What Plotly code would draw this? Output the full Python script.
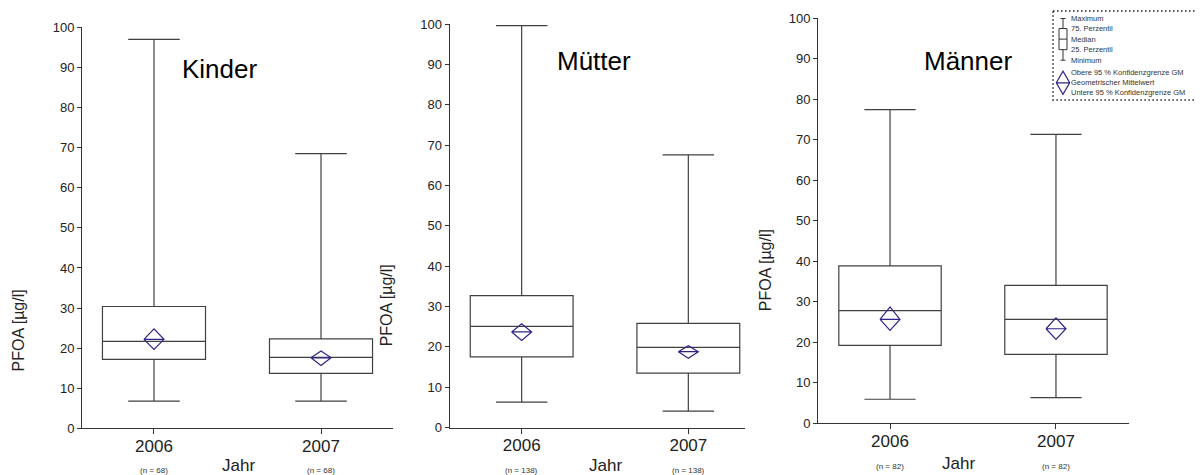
import plotly.graph_objects as go

W, H = 1203, 475

years = [2006, 2007]
panels = ["Kinder", "Mütter", "Männer"]
n_counts = {"Kinder": [68, 68], "Mütter": [138, 138], "Männer": [82, 82]}

# box statistics per panel: [2006, 2007]
maximum = {"Kinder": [97.0, 68.5], "Mütter": [99.6, 67.6], "Männer": [77.4, 71.3]}
q3 = {"Kinder": [30.4, 22.3], "Mütter": [32.7, 25.8], "Männer": [38.8, 34.0]}
median = {"Kinder": [21.7, 17.7], "Mütter": [25.1, 19.9], "Männer": [27.8, 25.6]}
q1 = {"Kinder": [17.2, 13.7], "Mütter": [17.5, 13.5], "Männer": [19.2, 17.0]}
minimum = {"Kinder": [6.8, 6.8], "Mütter": [6.3, 4.1], "Männer": [5.9, 6.3]}
# geometric mean and 95 % confidence limits
gm = {"Kinder": [22.2, 17.6], "Mütter": [23.7, 18.8], "Männer": [25.6, 23.3]}
ci_upper = {"Kinder": [24.8, 19.3], "Mütter": [25.7, 20.3], "Männer": [28.7, 26.0]}
ci_lower = {"Kinder": [19.7, 15.7], "Mütter": [21.6, 17.2], "Männer": [22.9, 20.7]}

y_ticks = [0, 10, 20, 30, 40, 50, 60, 70, 80, 90, 100]
legend_box_labels = ["Maximum", "75. Perzentil", "Median", "25. Perzentil", "Minimum"]
legend_gm_labels = ["Obere 95 % Konfidenzgrenze GM", "Geometrischer Mittelwert",
                    "Untere 95 % Konfidenzgrenze GM"]

# layout geometry (target pixels in the photographed page)
geom = {
    "Kinder": dict(x0=82, x1=393, y0=427.5, y1=28.3, xr=[2005.569, 2007.431]),
    "Mütter": dict(x0=449.5, x1=744.5, y0=426.7, y1=25.0, xr=[2005.567, 2007.337]),
    "Männer": dict(x0=818, x1=1128.5, y0=422.3, y1=19.0, xr=[2005.566, 2007.437]),
}
title_pos = {"Kinder": (219, 70), "Mütter": (594, 62), "Männer": (968, 62)}
ytitle_pos = {"Kinder": (18, 330), "Mütter": (386, 305), "Männer": (765, 270)}
jahr_pos = {"Kinder": (238, 464), "Mütter": (605, 464), "Männer": (959, 462)}
n_y = {"Kinder": 469, "Mütter": 469, "Männer": 465}

FONT = "Liberation Sans, Arial, sans-serif"
DIAMOND = "#2e2488"

# page offset / vertical scale observed in the photographed page
OX, OY, SY = 8.0, 16.0, 0.964


def px(x):
    return (x - OX) / W


def py(y):
    return 1 - ((y - OY) / SY) / H


fig = go.Figure()
annotations = []
shapes = []

for i, p in enumerate(panels):
    g = geom[p]
    xa = "x" if i == 0 else f"x{i+1}"
    ya = "y" if i == 0 else f"y{i+1}"
    fig.add_trace(go.Box(
        x=years, q1=q1[p], median=median[p], q3=q3[p],
        lowerfence=minimum[p], upperfence=maximum[p],
        width=0.617, whiskerwidth=0.5, boxpoints=False,
        fillcolor="rgba(255,255,255,0)",
        line=dict(color="#404040", width=1.2),
        xaxis=xa, yaxis=ya, showlegend=False, hoverinfo="skip",
    ))
    dx = 0.06
    for j, yr in enumerate(years):
        xs = [yr - dx, yr, yr + dx, yr, yr - dx, yr + dx]
        ys = [gm[p][j], ci_upper[p][j], gm[p][j], ci_lower[p][j], gm[p][j], gm[p][j]]
        fig.add_trace(go.Scatter(
            x=xs, y=ys, mode="lines", line=dict(color=DIAMOND, width=1.2),
            xaxis=xa, yaxis=ya, showlegend=False, hoverinfo="skip",
        ))
    xkey = "xaxis" if i == 0 else f"xaxis{i+1}"
    ykey = "yaxis" if i == 0 else f"yaxis{i+1}"
    fig.layout[xkey] = dict(
        domain=[px(g["x0"]), px(g["x1"])], range=g["xr"], anchor=ya,
        tickmode="array", tickvals=years, ticktext=[str(y) for y in years],
        ticks="outside", ticklen=5, tickcolor="#333", tickwidth=1,
        ticklabelstandoff=-3,
        showline=True, linecolor="#333", linewidth=1,
        showgrid=False, zeroline=False,
        tickfont=dict(family=FONT, size=17, color="#222"),
    )
    fig.layout[ykey] = dict(
        domain=[py(g["y0"]), py(g["y1"])], range=[0, 100], anchor=xa,
        tickmode="array", tickvals=y_ticks,
        ticks="outside", ticklen=4, tickcolor="#333", tickwidth=1,
        showline=True, linecolor="#333", linewidth=1,
        showgrid=False, zeroline=False,
        tickfont=dict(family=FONT, size=13, color="#222"),
    )
    tx, ty = title_pos[p]
    annotations.append(dict(text=p, x=px(tx), y=py(ty), xref="paper", yref="paper",
                            showarrow=False, xanchor="center", yanchor="middle",
                            font=dict(family=FONT, size=26, color="#000")))
    ax_, ay_ = ytitle_pos[p]
    annotations.append(dict(text="PFOA [µg/l]", x=px(ax_), y=py(ay_), xref="paper", yref="paper",
                            showarrow=False, xanchor="center", yanchor="middle", textangle=-90,
                            font=dict(family=FONT, size=16, color="#222")))
    jx, jy = jahr_pos[p]
    annotations.append(dict(text="Jahr", x=px(jx), y=py(jy), xref="paper", yref="paper",
                            showarrow=False, xanchor="center", yanchor="middle",
                            font=dict(family=FONT, size=17, color="#222")))
    for j, yr in enumerate(years):
        annotations.append(dict(text=f"(n = {n_counts[p][j]})", x=yr, y=py(n_y[p]),
                                xref=xa, yref="paper", showarrow=False,
                                xanchor="center", yanchor="middle",
                                font=dict(family=FONT, size=8, color="#333")))

# legend (decoration drawn in pixel space)
LX0, LY0, LY1 = 1053, 12, 100.5
shapes.append(dict(type="rect", xref="paper", yref="paper",
                   x0=px(LX0), x1=px(1225), y0=py(LY0), y1=py(LY1),
                   line=dict(color="#222", width=1.5, dash="1.5px,2.5px")))
cx = 1063
rows = [19.5, 29.5, 40, 50.5, 61]
line_style = dict(color="#333", width=1)
shapes += [
    dict(type="line", xref="paper", yref="paper", x0=px(cx), x1=px(cx), y0=py(rows[0]), y1=py(rows[1]), line=line_style),
    dict(type="line", xref="paper", yref="paper", x0=px(cx), x1=px(cx), y0=py(rows[3]), y1=py(rows[4]), line=line_style),
    dict(type="line", xref="paper", yref="paper", x0=px(cx - 2.5), x1=px(cx + 2.5), y0=py(rows[0]), y1=py(rows[0]), line=line_style),
    dict(type="line", xref="paper", yref="paper", x0=px(cx - 2.5), x1=px(cx + 2.5), y0=py(rows[4]), y1=py(rows[4]), line=line_style),
    dict(type="rect", xref="paper", yref="paper", x0=px(cx - 4), x1=px(cx + 4), y0=py(rows[1]), y1=py(rows[3]), line=line_style),
    dict(type="line", xref="paper", yref="paper", x0=px(cx - 4), x1=px(cx + 4), y0=py(rows[2]), y1=py(rows[2]), line=line_style),
]
drows = [72, 83.5, 95]
dl = dict(color=DIAMOND, width=1.2)
shapes.append(dict(type="path", xref="paper", yref="paper",
                   path=(f"M {px(cx-6.7)},{py(drows[1])} L {px(cx)},{py(drows[0])} L {px(cx+6.7)},{py(drows[1])} "
                         f"L {px(cx)},{py(drows[2])} Z M {px(cx-6.7)},{py(drows[1])} L {px(cx+6.7)},{py(drows[1])}"),
                   line=dl))
for lab, yy in zip(legend_box_labels, rows):
    annotations.append(dict(text=lab, x=px(1068.5), y=py(yy), xref="paper", yref="paper",
                            showarrow=False, xanchor="left", yanchor="middle",
                            font=dict(family=FONT, size=7.5, color="#333")))
for lab, yy in zip(legend_gm_labels, [73.5, 83, 93]):
    annotations.append(dict(text=lab, x=px(1068.5), y=py(yy), xref="paper", yref="paper",
                            showarrow=False, xanchor="left", yanchor="middle",
                            font=dict(family=FONT, size=7.5, color="#333")))

fig.update_layout(
    width=W, height=H, autosize=False,
    margin=dict(l=0, r=0, t=0, b=0, pad=0),
    paper_bgcolor="white", plot_bgcolor="white",
    showlegend=False, annotations=annotations, shapes=shapes,
    font=dict(family=FONT),
)

fig.write_html("out.html")
